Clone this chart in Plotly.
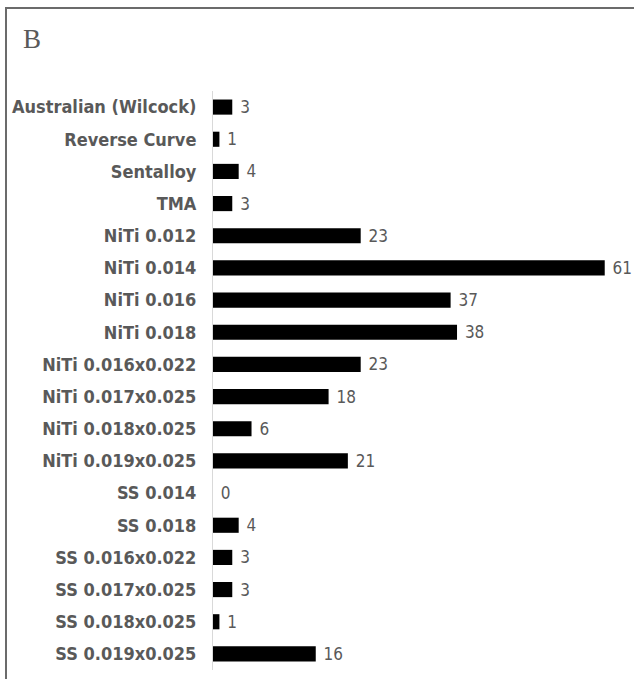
import plotly.graph_objects as go

categories = ["Australian (Wilcock)", "Reverse Curve", "Sentalloy", "TMA",
              "NiTi 0.012", "NiTi 0.014", "NiTi 0.016", "NiTi 0.018",
              "NiTi 0.016x0.022", "NiTi 0.017x0.025", "NiTi 0.018x0.025",
              "NiTi 0.019x0.025", "SS 0.014", "SS 0.018", "SS 0.016x0.022",
              "SS 0.017x0.025", "SS 0.018x0.025", "SS 0.019x0.025"]
values = [3, 1, 4, 3, 23, 61, 37, 38, 23, 18, 6, 21, 0, 4, 3, 3, 1, 16]

W, H = 634, 679
ML, MR, MT, MB = 213, 10, 91, 9
pw = W - ML - MR
ph = H - MT - MB

COND = "DejaVu Sans Condensed, Liberation Sans Narrow, Arial Narrow, sans-serif"

fig = go.Figure(go.Bar(
    y=categories, x=values, orientation="h",
    marker=dict(color="black", line=dict(width=0)),
    texttemplate="\u00a0%{x}", textposition="outside", constraintext="none",
    textfont=dict(family=COND, size=17, color="#595959"),
    cliponaxis=False, hoverinfo="skip",
))

def px_x(p):
    return (p - ML) / pw

def px_y(p):
    return 1 - (p - MT) / ph

fig.update_layout(
    width=W, height=H,
    margin=dict(l=ML, r=MR, t=MT, b=MB),
    plot_bgcolor="white", paper_bgcolor="white",
    bargap=0.53,
    showlegend=False,
    xaxis=dict(range=[0, 64], visible=False, showgrid=False, zeroline=False),
    yaxis=dict(autorange="reversed", showgrid=False, zeroline=False, automargin=False,
               showline=True, linecolor="#d9d9d9", linewidth=1,
               ticks="", ticklabelstandoff=12,
               tickfont=dict(family=COND, size=18, color="#595959", weight="bold")),
    annotations=[dict(text="B", xref="paper", yref="paper", x=px_x(21), y=px_y(22),
                      xanchor="left", yanchor="top", showarrow=False,
                      font=dict(family="Liberation Serif, serif", size=27, color="#595959"))],
    shapes=[
        dict(type="line", xref="paper", yref="paper", x0=px_x(6), x1=px_x(6),
             y0=px_y(8), y1=px_y(H + 5), line=dict(color="#6b6b6b", width=2)),
        dict(type="line", xref="paper", yref="paper", x0=px_x(5), x1=px_x(W + 5),
             y0=px_y(8), y1=px_y(8), line=dict(color="#6b6b6b", width=2)),
    ],
)

fig.write_html("out.html", config={"displayModeBar": False},
               post_script="document.body.style.margin='0';")
